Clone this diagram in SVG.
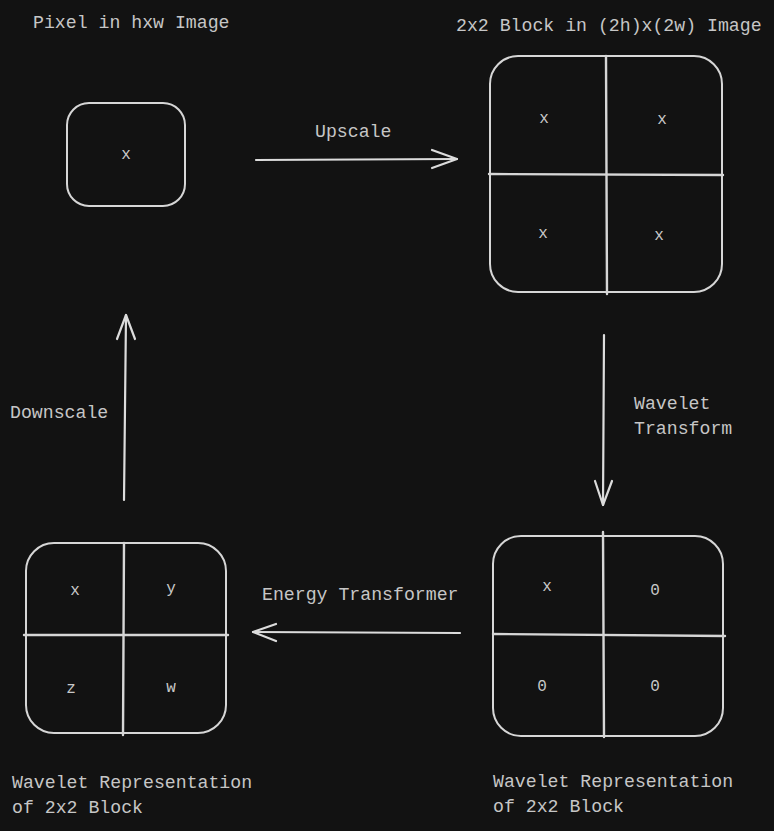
<svg xmlns="http://www.w3.org/2000/svg" width="774" height="831" viewBox="0 0 774 831">
  <style>
    .box { fill: none; stroke: #d6d6d6; stroke-width: 2; stroke-linecap: round; stroke-linejoin: round; }
    .div { fill: none; stroke: #d6d6d6; stroke-width: 2.4; stroke-linecap: round; }
    .conn { fill: none; stroke: #dcdcdc; stroke-width: 2.2; stroke-linecap: round; stroke-linejoin: round; }
    .t { font-family: "Liberation Mono", "DejaVu Sans Mono", monospace; font-size: 18.2px; fill: #c6c6c6; }
    .c { font-family: "Liberation Mono", "DejaVu Sans Mono", monospace; font-size: 16px; fill: #c8c8c8; text-anchor: middle; }
  </style>
  <rect width="774" height="831" fill="#121212"/>

  <g id="pixel-node">
    <text class="t" x="33" y="28">Pixel in hxw Image</text>
    <rect class="box" x="67" y="103" width="118" height="103" rx="22" ry="22"/>
    <text class="c" x="126" y="159">x</text>
  </g>

  <g id="block-node">
    <text class="t" x="456" y="31">2x2 Block in (2h)x(2w) Image</text>
    <rect class="box" x="490" y="56" width="232" height="236" rx="28" ry="28"/>
    <path class="div" d="M606 56 L607 294"/>
    <path class="div" d="M489 174 L723 175"/>
    <text class="c" x="544" y="123">x</text>
    <text class="c" x="662" y="124">x</text>
    <text class="c" x="543" y="238">x</text>
    <text class="c" x="659" y="240">x</text>
  </g>

  <g id="wavelet-node">
    <rect class="box" x="493" y="536" width="230" height="200" rx="28" ry="28"/>
    <path class="div" d="M603 532 L604 737"/>
    <path class="div" d="M493 634 L725 636"/>
    <text class="c" x="547" y="591">x</text>
    <text class="c" x="655" y="595">0</text>
    <text class="c" x="542" y="691">0</text>
    <text class="c" x="655" y="691">0</text>
    <text class="t" x="493" y="787">Wavelet Representation</text>
    <text class="t" x="493" y="812">of 2x2 Block</text>
  </g>

  <g id="energy-node">
    <rect class="box" x="26" y="543" width="200" height="190" rx="28" ry="28"/>
    <path class="div" d="M124 543 L123 735"/>
    <path class="div" d="M24 635 L228 635"/>
    <text class="c" x="75" y="595">x</text>
    <text class="c" x="171" y="593">y</text>
    <text class="c" x="71" y="693">z</text>
    <text class="c" x="171" y="692">w</text>
    <text class="t" x="12" y="788">Wavelet Representation</text>
    <text class="t" x="12" y="813">of 2x2 Block</text>
  </g>

  <g id="connectors">
    <g id="upscale">
      <path class="conn" d="M256 160 L457 159"/>
      <path class="conn" d="M432 150 L457 159 L432 168"/>
      <text class="t" x="315" y="137">Upscale</text>
    </g>
    <g id="wavelet-transform">
      <path class="conn" d="M604 335 L603 505"/>
      <path class="conn" d="M595 481 L603 505 L612 481"/>
      <text class="t" x="634" y="409">Wavelet</text>
      <text class="t" x="634" y="434">Transform</text>
    </g>
    <g id="energy-transformer">
      <path class="conn" d="M460 633 L253 632"/>
      <path class="conn" d="M276 624 L253 632 L276 641"/>
      <text class="t" x="262" y="600">Energy Transformer</text>
    </g>
    <g id="downscale">
      <path class="conn" d="M124 500 L126 315"/>
      <path class="conn" d="M117 339 L126 315 L135 339"/>
      <text class="t" x="10" y="418">Downscale</text>
    </g>
  </g>
</svg>
